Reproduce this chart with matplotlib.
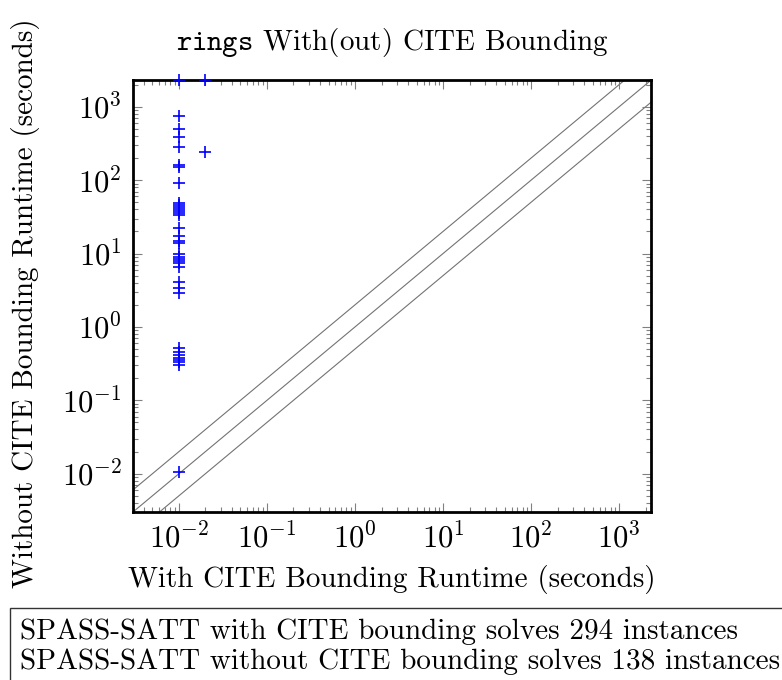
"""Scatter de tiempos de ejecucion con/sin CITE bounding (rings)."""

import numpy as np
import matplotlib
matplotlib.use("Agg")
import matplotlib.pyplot as plt
from matplotlib.patches import Rectangle

plt.rcParams["font.family"] = "serif"
plt.rcParams["font.serif"] = ["cmr10"]
plt.rcParams["mathtext.fontset"] = "cm"
plt.rcParams["axes.formatter.use_mathtext"] = True

timeout = 2300.0
limite_inf = 0.003

# tiempos con CITE bounding (eje x) y sin CITE bounding (eje y)
t_con = [
    0.01, 0.02,
    0.01, 0.01, 0.01, 0.01, 0.01, 0.01, 0.01, 0.02,
    0.01, 0.01, 0.01, 0.01, 0.01, 0.01, 0.01,
    0.01, 0.01, 0.01, 0.01,
    0.01, 0.01, 0.01, 0.01, 0.01, 0.01,
    0.01, 0.01, 0.01,
    0.01, 0.01, 0.01, 0.01, 0.01, 0.01, 0.01,
    0.01,
]
t_sin = [
    timeout, timeout,
    755, 497, 383, 285, 160, 150, 91, 239,
    48.5, 45.6, 42.8, 40.2, 37.7, 35.4, 33.3,
    22.1, 17.6, 14.8, 14.1,
    9.77, 9.08, 8.43, 7.91, 7.36, 6.64,
    4.14, 3.36, 2.87,
    0.52, 0.449, 0.412, 0.383, 0.352, 0.328, 0.301,
    0.0105,
]
factores_diag = [0.5, 1.0, 2.0]

titulo = r"$\mathtt{rings}$ With(out) CITE Bounding"
etiqueta_x = "With CITE Bounding Runtime (seconds)"
etiqueta_y = "Without CITE Bounding Runtime (seconds)"
leyenda = [
    "SPASS-SATT with CITE bounding solves 294 instances",
    "SPASS-SATT without CITE bounding solves 138 instances",
]

fs = 21
fig = plt.figure(figsize=(7.82, 6.8), dpi=100)
ax = fig.add_axes([0.170, 0.247, 0.6624, 0.635])

xs = np.array([limite_inf, timeout])
for f in factores_diag:
    ax.plot(xs, xs * f, color="0.45", linewidth=0.8, zorder=1)

ax.plot(t_con, t_sin, linestyle="none", marker="+", color="blue",
        markersize=9, markeredgewidth=1.2, zorder=3, clip_on=False)

ax.set_xscale("log")
ax.set_yscale("log")
ax.set_xlim(limite_inf, timeout)
ax.set_ylim(limite_inf, timeout)

for s in ax.spines.values():
    s.set_linewidth(2.0)
    s.set_color("black")

ax.tick_params(which="both", direction="in", top=True, right=True,
               color="0.5", labelsize=22)
ax.tick_params(which="major", length=6.5, width=0.8, pad=8)
ax.tick_params(which="minor", length=3.5, width=0.8)
ax.xaxis.set_major_locator(matplotlib.ticker.LogLocator(base=10, numticks=12))
ax.yaxis.set_major_locator(matplotlib.ticker.LogLocator(base=10, numticks=12))
ax.xaxis.set_minor_locator(matplotlib.ticker.LogLocator(base=10, subs=np.arange(2, 10), numticks=12))
ax.yaxis.set_minor_locator(matplotlib.ticker.LogLocator(base=10, subs=np.arange(2, 10), numticks=12))
ax.xaxis.set_minor_formatter(matplotlib.ticker.NullFormatter())
ax.yaxis.set_minor_formatter(matplotlib.ticker.NullFormatter())

ax.set_title(titulo, fontsize=fs, pad=22)
ax.set_xlabel(etiqueta_x, fontsize=fs)
ax.set_ylabel(etiqueta_y, fontsize=fs)
ax.xaxis.set_label_coords(0.5, -0.122)
ax.yaxis.set_label_coords(-0.18, 0.484)

# caja de leyenda (recortada por el borde de la figura)
fig.patches.append(Rectangle((0.0128, -0.05), 1.05, 0.156,
                             transform=fig.transFigure, fill=False,
                             edgecolor="0.2", linewidth=1.0))
fig.text(0.0256, 0.0706, leyenda[0], fontsize=21, va="center", ha="left")
fig.text(0.0256, 0.0265, leyenda[1], fontsize=21, va="center", ha="left")

fig.savefig("out.png", dpi=100)
